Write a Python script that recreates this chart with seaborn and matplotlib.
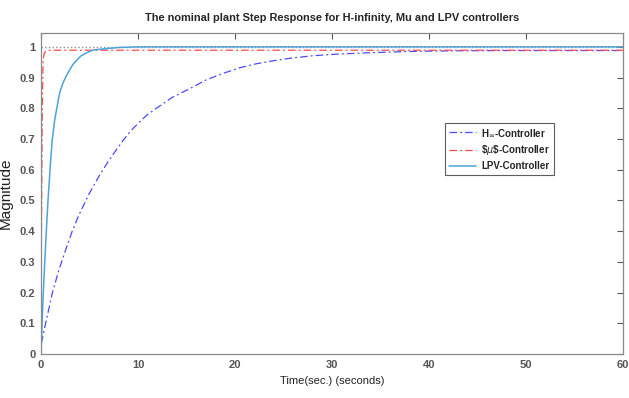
import pandas as pd
import matplotlib
matplotlib.use('Agg')
import matplotlib.pyplot as plt
import seaborn as sns

# values
t_hinf = [0, 0.07, 0.48, 1.16, 1.85, 2.54, 3.22, 3.9, 4.93, 5.96, 6.99, 7.84, 8.5, 9.3, 10.2, 11.0,
          11.9, 13.5, 15.4, 17.0, 18.8, 20.5, 22.2, 24.0, 25.7, 28.0, 30.8, 34.0, 38.0, 42.0, 48.0, 54.0, 60.0]
y_hinf = [0.035, 0.04, 0.10, 0.198, 0.274, 0.339, 0.40, 0.452, 0.52, 0.578, 0.63, 0.668, 0.697, 0.728,
          0.757, 0.78, 0.80, 0.835, 0.865, 0.892, 0.914, 0.932, 0.945, 0.955, 0.963, 0.971, 0.977,
          0.981, 0.985, 0.987, 0.988, 0.988, 0.988]

t_mu = [0, 0.07, 0.12, 0.18, 0.22, 0.3, 0.45, 0.65, 1.0, 60]
y_mu = [0.2, 0.5, 0.75, 0.9, 0.955, 0.975, 0.985, 0.988, 0.989, 0.989]

t_lpv = [0, 0.2, 0.48, 0.72, 1.0, 1.16, 1.41, 1.78, 1.95, 2.26, 2.6, 2.95, 3.3, 3.73, 4.1, 4.59,
         5.0, 5.45, 6.65, 8.0, 10.0, 60.0]
y_lpv = [0.0, 0.176, 0.36, 0.50, 0.632, 0.697, 0.762, 0.827, 0.853, 0.882, 0.905, 0.925, 0.943,
         0.958, 0.970, 0.979, 0.985, 0.990, 0.994, 0.998, 1.0, 1.0]

t_ref = [0, 60]
y_ref = [1, 1]

labels = ['H$_\\infty$-Controller', '\\$$\\mu$\\$-Controller', 'LPV-Controller']

sns.set_style('white')
plt.rcParams['font.family'] = ['Liberation Sans', 'DejaVu Sans']

fig = plt.figure(figsize=(6.29, 3.98), dpi=100)
ax = fig.add_axes([0.0652, 0.1106, 0.9253, 0.8064])

sns.lineplot(x=t_ref, y=y_ref, ax=ax, color='#8c8c8c', linestyle=':', linewidth=1.0)
sns.lineplot(x=t_hinf, y=y_hinf, ax=ax, color='#4a4aff', linewidth=0.9,
             label=labels[0]).lines[-1].set_dashes([6, 2.5, 1.5, 2.5])
sns.lineplot(x=t_mu, y=y_mu, ax=ax, color='#ff4a4a', linewidth=0.9,
             label=labels[1]).lines[-1].set_dashes([6, 2.5, 1.5, 2.5])
sns.lineplot(x=t_lpv, y=y_lpv, ax=ax, color='#4da3db', linewidth=1.1, label=labels[2])

ax.set_xlim(0, 60)
ax.set_ylim(0, 1.045)
ax.set_xticks(range(0, 61, 10))
ax.set_yticks([i / 10 for i in range(11)])
ax.set_yticklabels(['0', '0.1', '0.2', '0.3', '0.4', '0.5', '0.6', '0.7', '0.8', '0.9', '1'])
ax.tick_params(direction='in', length=4, width=0.8, color='#555555', labelcolor='#555555',
               labelsize=8, top=True, right=True, pad=4)
for lbl in ax.get_xticklabels() + ax.get_yticklabels():
    lbl.set_fontweight('bold')
for s in ax.spines.values():
    s.set_color('#8a8a8a')
    s.set_linewidth(0.9)

ax.set_title('The nominal plant Step Response for H-infinity, Mu and LPV controllers',
             fontsize=7.9, fontweight='bold', pad=9)
ax.set_xlabel('Time(sec.) (seconds)', fontsize=8, color='#222222', labelpad=5)
ax.set_ylabel('Magnitude', fontsize=11, color='#222222', labelpad=5)

leg = ax.legend(loc='upper left', bbox_to_anchor=(0.686, 0.735), fontsize=7, frameon=True,
                fancybox=False, edgecolor='#333333', handlelength=2.8, borderpad=0.4,
                labelspacing=0.45, handletextpad=0.5)
leg.get_frame().set_linewidth(0.8)
for txt in leg.get_texts():
    txt.set_fontweight('bold')

fig.savefig('out.png', dpi=100)
